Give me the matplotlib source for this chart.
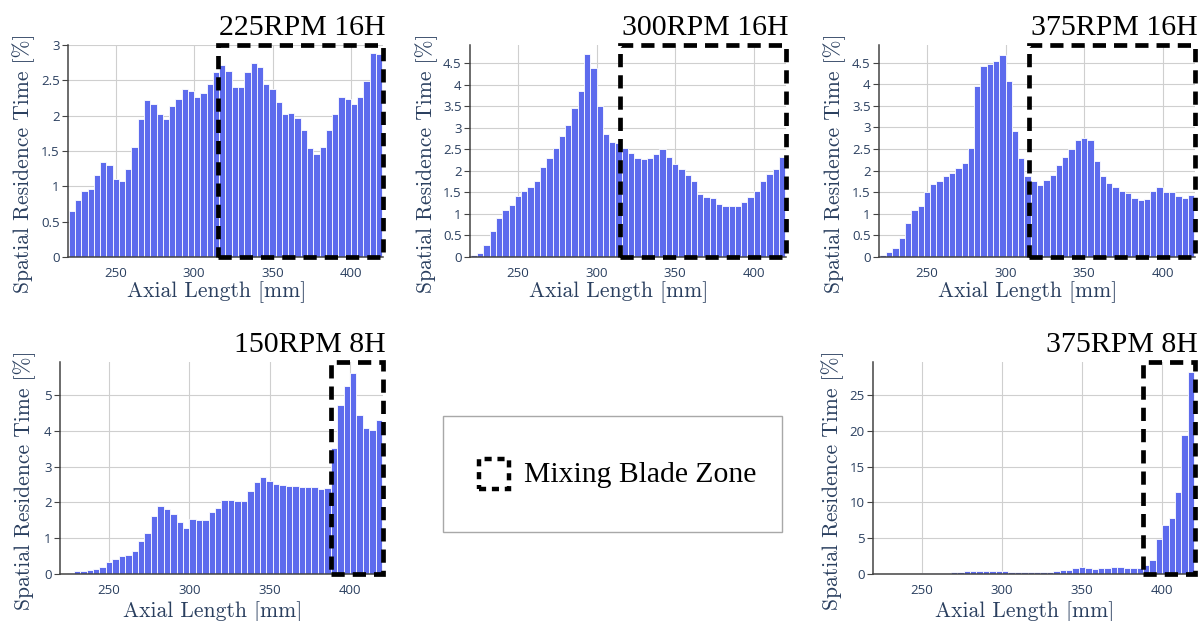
import numpy as np
import matplotlib.pyplot as plt
from matplotlib.patches import Rectangle
from matplotlib.ticker import FuncFormatter

# histogram bins along the axial length, 4 mm wide
bin_edges = np.arange(220, 421, 4)
x_ticks = [250, 300, 350, 400]

rpm225_16h = [0.65, 0.8, 0.94, 0.96, 1.16, 1.34, 1.3, 1.1, 1.08, 1.25,
              1.55, 1.95, 2.22, 2.16, 2.02, 1.95, 2.13, 2.24, 2.38, 2.35,
              2.26, 2.32, 2.45, 2.62, 2.72, 2.63, 2.4, 2.41, 2.62, 2.74,
              2.69, 2.45, 2.38, 2.2, 2.03, 2.04, 1.96, 1.8, 1.54, 1.46,
              1.56, 1.8, 2.02, 2.26, 2.23, 2.16, 2.26, 2.49, 2.88, 2.87]
rpm300_16h = [0.05, 0.1, 0.28, 0.6, 0.9, 1.1, 1.2, 1.41, 1.53, 1.62,
              1.76, 2.1, 2.3, 2.53, 2.8, 3.07, 3.45, 3.86, 4.7, 4.38,
              3.5, 2.86, 2.67, 2.65, 2.53, 2.42, 2.3, 2.28, 2.3, 2.4,
              2.51, 2.32, 2.15, 2.05, 1.9, 1.76, 1.47, 1.4, 1.37, 1.24,
              1.18, 1.18, 1.19, 1.28, 1.39, 1.54, 1.77, 1.92, 2.05, 2.32]
rpm375_16h = [0.05, 0.12, 0.2, 0.43, 0.78, 1.08, 1.19, 1.5, 1.7, 1.77,
              1.87, 1.94, 2.06, 2.17, 2.52, 3.95, 4.42, 4.48, 4.53, 4.67,
              4.07, 2.92, 2.29, 1.87, 1.75, 1.67, 1.78, 1.89, 2.14, 2.32,
              2.51, 2.71, 2.76, 2.7, 2.23, 1.87, 1.71, 1.61, 1.54, 1.49,
              1.36, 1.32, 1.35, 1.53, 1.62, 1.5, 1.5, 1.41, 1.36, 1.43]
rpm150_8h = [0.01, 0.04, 0.08, 0.09, 0.12, 0.15, 0.2, 0.33, 0.43, 0.49,
             0.54, 0.64, 0.92, 1.14, 1.63, 1.91, 1.82, 1.69, 1.46, 1.3,
             1.54, 1.51, 1.51, 1.74, 1.84, 2.06, 2.06, 2.03, 2.04, 2.31,
             2.56, 2.71, 2.6, 2.53, 2.49, 2.47, 2.45, 2.43, 2.43, 2.43,
             2.39, 2.41, 3.53, 4.72, 5.26, 5.63, 4.45, 4.08, 4.02, 4.3]
rpm375_8h = [0.02, 0.02, 0.03, 0.03, 0.04, 0.05, 0.06, 0.08, 0.1, 0.13,
             0.17, 0.2, 0.25, 0.32, 0.35, 0.38, 0.4, 0.4, 0.38, 0.37,
             0.35, 0.3, 0.25, 0.22, 0.22, 0.27, 0.3, 0.33, 0.42, 0.5,
             0.62, 0.8, 0.95, 0.9, 0.75, 0.82, 0.9, 0.95, 0.92, 0.85,
             0.82, 0.9, 1.3, 1.9, 4.9, 6.8, 7.8, 11.5, 19.4, 28.2]

titles = ["225RPM 16H", "300RPM 16H", "375RPM 16H", "150RPM 8H", "375RPM 8H"]
zone_start = [315, 315, 315, 388, 388]  # start of mixing blade zone [mm]

W, H = 1200, 621
BAR = '#5d6bed'
TXT = '#2a3f5f'
SERIF = ['Liberation Serif', 'DejaVu Serif']
CM = ['cmr10', 'DejaVu Serif']

fig = plt.figure(figsize=(W / 100, H / 100), dpi=100)


def px_axes(l, t, r, b):
    return fig.add_axes([l / W, 1 - b / H, (r - l) / W, (b - t) / H])


def panel(rect, values, title, zone, ymax, yticks, ylab_dx, xlab_dy):
    ax = px_axes(*rect)
    w_px = rect[2] - rect[0]
    h_px = rect[3] - rect[1]
    ax.bar(bin_edges[:-1], values, width=np.diff(bin_edges), align='edge',
           color=BAR, edgecolor='white', linewidth=0.6, zorder=2)
    ax.set_xlim(219.5, 420.5)
    ax.set_ylim(0, ymax)
    ax.set_xticks(x_ticks)
    ax.set_yticks(yticks)
    ax.yaxis.set_major_formatter(FuncFormatter(lambda v, p: f'{v:g}'))
    ax.grid(True, color='#cfcfcf', linewidth=0.8, zorder=0)
    ax.set_axisbelow(True)
    for s in ['top', 'right']:
        ax.spines[s].set_visible(False)
    for s in ['left', 'bottom']:
        ax.spines[s].set_color('#444444')
        ax.spines[s].set_linewidth(1.1)
    ax.tick_params(axis='x', length=0, pad=7, labelsize=9.5, labelcolor=TXT)
    ax.tick_params(axis='y', length=4, width=0.8, color='#444444', pad=2,
                   labelsize=9.5, labelcolor=TXT)
    for lab in ax.get_xticklabels() + ax.get_yticklabels():
        lab.set_family('Open Sans')

    ax.set_ylabel('Spatial Residence Time [%]', family=CM, fontsize=15.5,
                  color=TXT, va='center')
    ax.yaxis.set_label_coords(ylab_dx / w_px, 0.44)
    ax.set_xlabel('Axial Length [mm]', family=CM, fontsize=15.5,
                  color=TXT, va='center')
    ax.xaxis.set_label_coords(0.5 - 9 / w_px, xlab_dy / h_px)

    ax.text(1.008, 1 + 10 / h_px, title, transform=ax.transAxes, ha='right',
            va='baseline', fontsize=21.5, family=SERIF, color='black')

    box = Rectangle((zone, 0), 420.5 - zone, ymax, fill=False,
                    edgecolor='black', linewidth=3.4,
                    linestyle=(0, (2.8, 1.7)), clip_on=False, zorder=5)
    ax.add_patch(box)
    return ax


panel((68, 45, 383, 257), rpm225_16h, titles[0], zone_start[0], 3.0,
      np.arange(0, 3.01, 0.5), -44, -35)
panel((470, 45, 786, 257), rpm300_16h, titles[1], zone_start[1], 4.92,
      np.arange(0, 4.51, 0.5), -43, -35)
panel((879, 45, 1195, 257), rpm375_16h, titles[2], zone_start[2], 4.91,
      np.arange(0, 4.51, 0.5), -44, -35)
panel((60, 362, 383, 574), rpm150_8h, titles[3], zone_start[3], 5.93,
      np.arange(0, 5.1, 1), -35, -38)
panel((873, 362, 1195, 574), rpm375_8h, titles[4], zone_start[4], 29.6,
      np.arange(0, 25.1, 5), -40, -38)

# legend box
fig.add_artist(Rectangle((443 / W, 1 - 532 / H), 339 / W, 116 / H,
                         transform=fig.transFigure, fill=False,
                         edgecolor='#a8a8a8', linewidth=1))
fig.add_artist(Rectangle((479 / W, 1 - 489 / H), 30 / W, 30 / H,
                         transform=fig.transFigure, fill=False,
                         edgecolor='black', linewidth=3.2,
                         linestyle=(0, (1.6, 1.3))))
fig.text(524 / W, 1 - 475 / H, 'Mixing Blade Zone', ha='left', va='center',
         fontsize=21.3, family=SERIF, color='black')

fig.savefig('out.png', dpi=100, facecolor='white')
